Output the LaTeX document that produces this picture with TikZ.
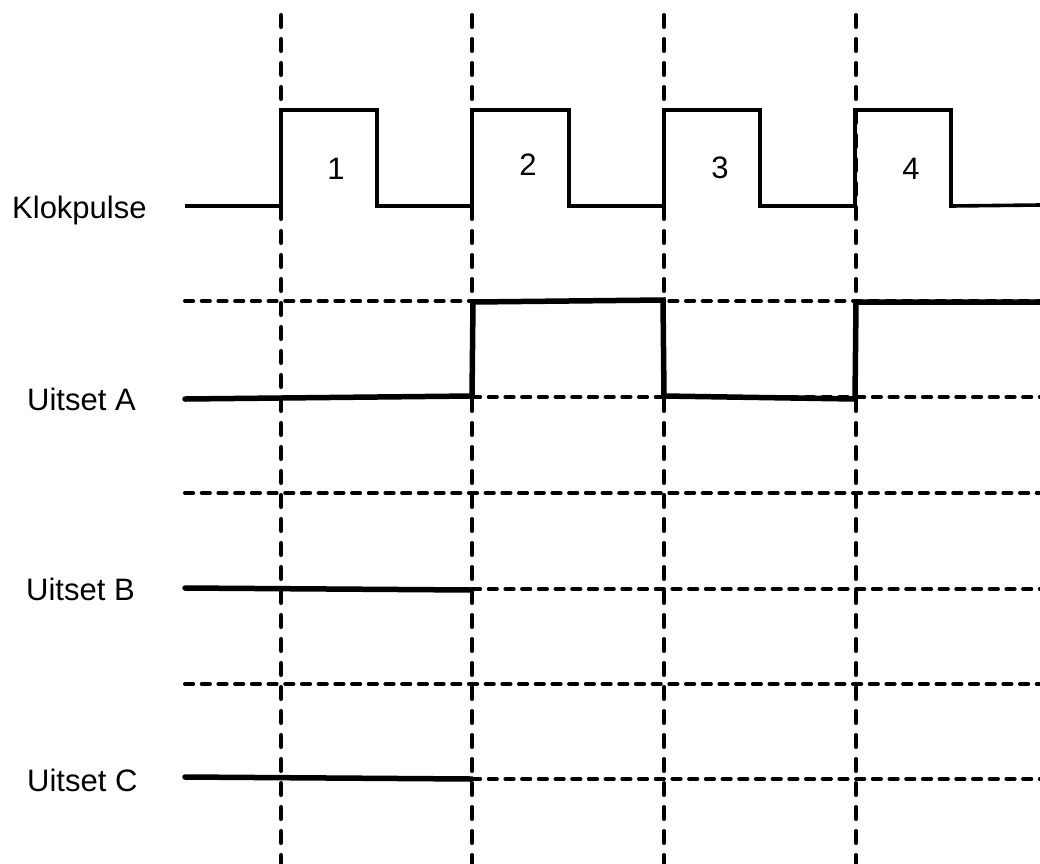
\documentclass[tikz,border=0pt]{standalone}
\usepackage{fontspec}
\setmainfont{Liberation Sans}
\begin{document}
\begin{tikzpicture}[x=1pt,y=-1pt,
  vgrid/.style={line width=4pt,line cap=round,dash pattern=on 12pt off 12pt},
  hgrid/.style={line width=4pt,line cap=round,dash pattern=on 8.2pt off 8.5pt},
  clk/.style={line width=3.6pt,line join=miter},
  sig/.style={line width=5.5pt,line join=miter,line cap=round},
  lbl/.style={anchor=base west,inner sep=0pt,font=\fontsize{31}{37}\selectfont},
  num/.style={inner sep=0pt,font=\fontsize{31}{37}\selectfont}]
\useasboundingbox (0,0) rectangle (1040,863);
% vertical grid
\foreach \x in {281,472,664,856}
  \draw[vgrid] (\x,15) -- (\x,875);
% horizontal grid
\draw[hgrid] (185,301) -- (1040,301);
\draw[hgrid] (472,397) -- (1040,397);
\draw[hgrid] (185,493) -- (1040,493);
\draw[hgrid] (472,589) -- (1040,589);
\draw[hgrid] (185,684) -- (1040,684);
\draw[hgrid] (472,779) -- (1040,779);
% labels
\node[lbl] (klok) at (12,218) {Klokpulse};
\node[lbl] (ua) at (27,410) {Uitset A};
\node[lbl] (ub) at (26,600) {Uitset B};
\node[lbl] (uc) at (27,791) {Uitset C};
\node[num] (n1) at (336,169) {1};
\node[num] (n2) at (528,165) {2};
\node[num] (n3) at (720,168) {3};
\node[num] (n4) at (911,169) {4};
% clock
\draw[clk] (185,206) -- (281,206) -- (281,110) -- (377,110) -- (377,206)
  -- (472,206) -- (472,110) -- (569,110) -- (569,206)
  -- (664,206) -- (664,110) -- (760,110) -- (760,206)
  -- (855,206) -- (855,110) -- (951,110) -- (951,206) -- (1040,205);
% outputs
\draw[sig] (185,399) -- (472,396) -- (473,302) -- (663,300) -- (664,396)
  -- (855,399) -- (856,302) -- (1040,302);
\draw[sig] (185,588) -- (472,590);
\draw[sig] (185,777) -- (472,779);
\end{tikzpicture}
\end{document}
